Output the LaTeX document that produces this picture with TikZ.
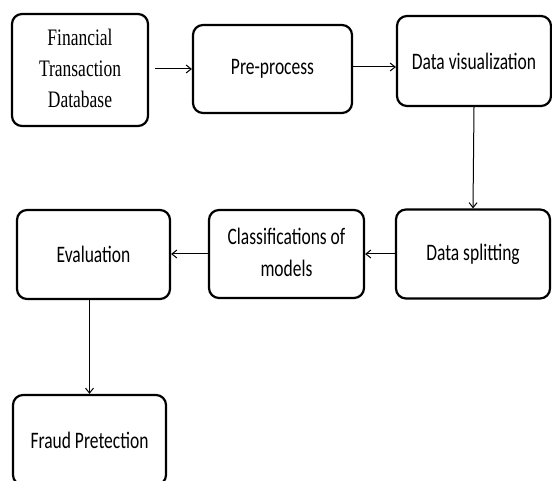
\documentclass[tikz,border=0pt]{standalone}
\usepackage{fontspec}
\usepackage{graphicx}
\setmainfont{Liberation Serif}
\newfontfamily\calibri{Carlito}
\usetikzlibrary{arrows.meta}

% text is drawn a little taller than wide
\newcommand{\tallText}[1]{\scalebox{1}[1.35]{#1}}

\begin{document}
\begin{tikzpicture}[x=1pt, y=-1pt,
    stage/.style={draw, line width=2.2pt, rounded corners=10pt, align=center,
        inner sep=0pt, font=\calibri\fontsize{17.5}{23.5}\selectfont},
    flow/.style={-{Straight Barb[length=5pt, width=8pt]}, line width=1pt}]
    \useasboundingbox (0,0) rectangle (552,481);

    % first row
    \node[stage, minimum width=136pt, minimum height=112pt,
        font=\rmfamily\fontsize{17.5}{23}\selectfont] (fin) at (80,70)
        {\tallText{\begin{tabular}{@{}c@{}}Financial\\Transaction\\Database\end{tabular}}};
    \node[stage, minimum width=159pt, minimum height=88pt] (pre) at (272.5,69)
        {\tallText{Pre-process}};
    \node[stage, minimum width=154pt, minimum height=90pt] (vis) at (474,61)
        {\tallText{Data visualization}};

    % second row
    \node[stage, minimum width=154pt, minimum height=89pt] (split) at (473,254)
        {\tallText{Data splitting}};
    \node[stage, minimum width=155pt, minimum height=88pt] (cls) at (286.5,254)
        {\tallText{\begin{tabular}{@{}c@{}}Classifications of\\models\end{tabular}}};
    \node[stage, minimum width=153pt, minimum height=89pt] (eval) at (93.5,254.5)
        {\tallText{Evaluation}};

    % last box, cut at the bottom
    \node[stage, minimum width=153pt, minimum height=90pt] (fraud) at (89.5,440)
        {\tallText{Fraud Pretection}};

    % arrows
    \draw[flow, shorten <=6pt] (fin.east |- pre.east) -- (pre.west);
    \draw[flow] ([yshift=2pt]pre.east) -- ([yshift=2pt]pre.east -| vis.west);
    \draw[flow] (vis.south) -- (split.north);
    \draw[flow] (split.west) -- (cls.east);
    \draw[flow] (cls.west) -- (cls.west -| eval.east);
    \draw[flow] (fraud.north |- eval.south) -- (fraud.north);
\end{tikzpicture}
\end{document}
